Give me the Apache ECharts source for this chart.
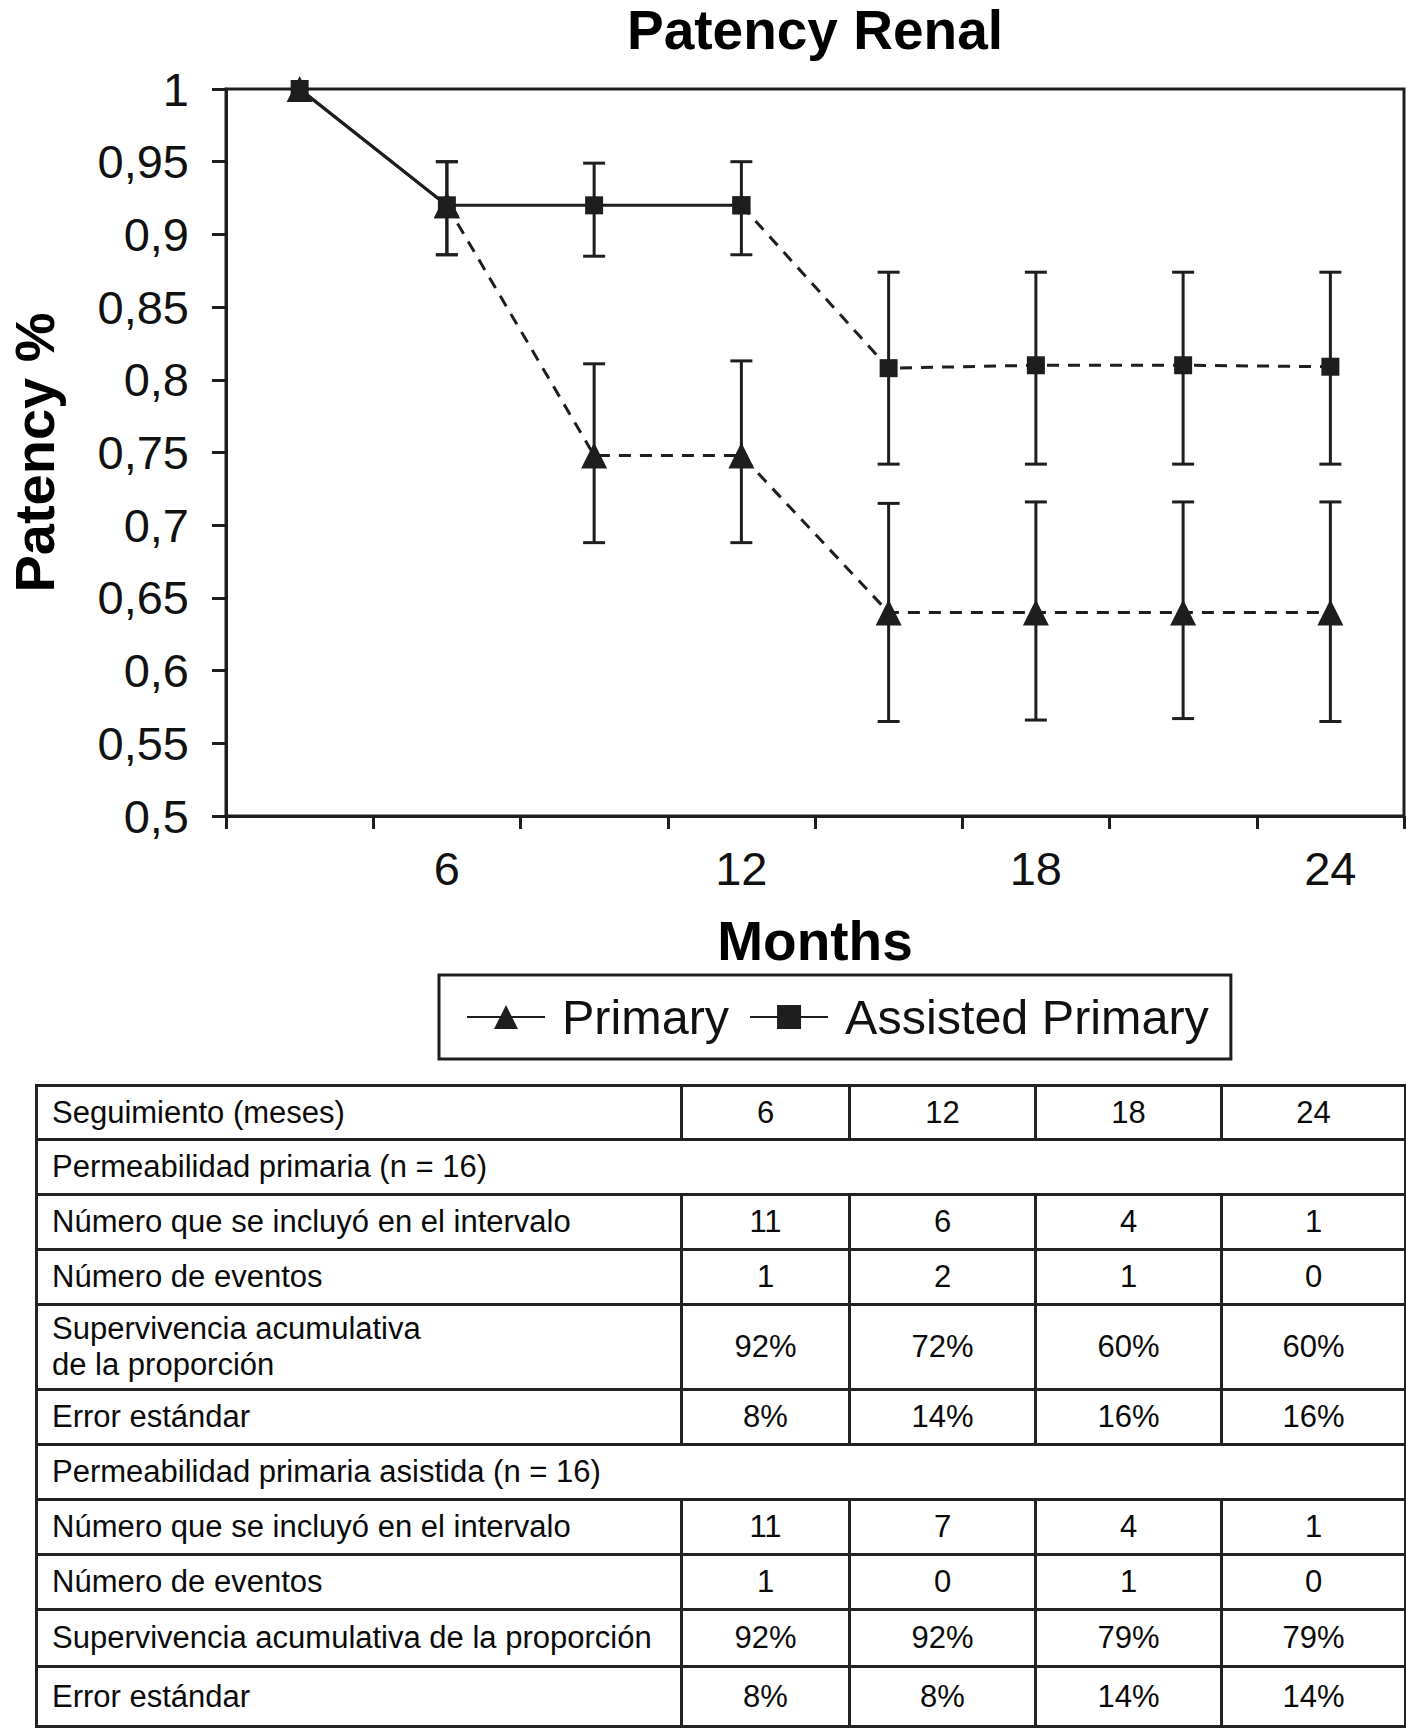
<!DOCTYPE html>
<html>
<head>
<meta charset="utf-8">
<script src="https://cdn.jsdelivr.net/npm/echarts@6/dist/echarts.min.js"></script>
<style>
  html, body { margin: 0; padding: 0; background: #fff; }
  #wrap { position: relative; width: 1406px; height: 1732px; background: #fff; }
  #chart { position: absolute; left: 0; top: 0; width: 1406px; height: 1078px; }
  #tbl { position: absolute; left: 35px; top: 1084px; width: 1369px; border-collapse: collapse; table-layout: fixed;
         font-family: "Liberation Sans", Arial, sans-serif; font-size: 31px; color: #0a0a0a; }
  #tbl td { border: 3px solid #222; padding: 0 0 0 14px; line-height: 36px; }
  #tbl td.num { text-align: center; padding: 0; }
</style>
</head>
<body>
<div id="wrap">
  <div id="chart"></div>
  <table id="tbl"></table>
</div>
<script>
// ---- chart data ----
const months = ['3', '6', '9', '12', '15', '18', '21', '24'];
const xTickLabels = ['6', '12', '18', '24'];
const yTickLabels = ['0,5', '0,55', '0,6', '0,65', '0,7', '0,75', '0,8', '0,85', '0,9', '0,95', '1'];
const primary = [1, 0.92, 0.748, 0.748, 0.64, 0.64, 0.64, 0.64];
const assisted = [1, 0.92, 0.92, 0.92, 0.808, 0.81, 0.81, 0.809];
const primaryLow = [null, 0.886, 0.688, 0.688, 0.565, 0.566, 0.567, 0.565];
const primaryHigh = [null, 0.950, 0.811, 0.813, 0.715, 0.716, 0.716, 0.716];
const assistedLow = [null, 0.886, 0.885, 0.886, 0.742, 0.742, 0.742, 0.742];
const assistedHigh = [null, 0.950, 0.949, 0.950, 0.874, 0.874, 0.874, 0.874];
// index where solid line ends (dashed from here on)
const primarySolidEnd = 1;
const assistedSolidEnd = 3;

// ---- table data ----
const tableHeader = ['Seguimiento (meses)', '6', '12', '18', '24'];
const primaryTitle = 'Permeabilidad primaria (n = 16)';
const primaryRows = [
  ['Número que se incluyó en el intervalo', '11', '6', '4', '1'],
  ['Número de eventos', '1', '2', '1', '0'],
  ['Supervivencia acumulativa<br>de la proporción', '92%', '72%', '60%', '60%'],
  ['Error estándar', '8%', '14%', '16%', '16%']
];
const assistedTitle = 'Permeabilidad primaria asistida (n = 16)';
const assistedRows = [
  ['Número que se incluyó en el intervalo', '11', '7', '4', '1'],
  ['Número de eventos', '1', '0', '1', '0'],
  ['Supervivencia acumulativa de la proporción', '92%', '92%', '79%', '79%'],
  ['Error estándar', '8%', '8%', '14%', '14%']
];

// ---- build table (layout constants kept separate from data) ----
(function buildTable() {
  const t = document.getElementById('tbl');
  const colW = [645, 168, 186, 186, 184];
  const rowH = [54, 55, 55, 55, 85, 55, 55, 55, 55, 57, 60];
  let r = 0;
  let html = '<colgroup>' + colW.map(w => '<col style="width:' + w + 'px">').join('') + '</colgroup>';
  const row = (cells) => '<tr style="height:' + rowH[r++] + 'px">' +
    cells.map((c, i) => '<td' + (i > 0 ? ' class="num"' : '') + '>' + c + '</td>').join('') + '</tr>';
  const titleRow = (txt) => '<tr style="height:' + rowH[r++] + 'px"><td colspan="5">' + txt + '</td></tr>';
  html += row(tableHeader);
  html += titleRow(primaryTitle);
  primaryRows.forEach(x => { html += row(x); });
  html += titleRow(assistedTitle);
  assistedRows.forEach(x => { html += row(x); });
  t.innerHTML = html;
})();

// ---- chart ----
const ink = '#1e1e1e';
function segment(arr, from, to) {
  return arr.map((v, i) => (i >= from && i <= to) ? v : '-');
}
function errData(low, high) {
  const out = [];
  low.forEach((l, i) => { if (l !== null) out.push([i, l, high[i]]); });
  return out;
}
function errRender(params, api) {
  const x = api.value(0);
  const lo = api.coord([x, api.value(1)]);
  const hi = api.coord([x, api.value(2)]);
  const hw = 11;
  const style = { stroke: ink, lineWidth: 3 };
  return {
    type: 'group',
    children: [
      { type: 'line', shape: { x1: lo[0], y1: lo[1], x2: hi[0], y2: hi[1] }, style },
      { type: 'line', shape: { x1: lo[0] - hw, y1: lo[1], x2: lo[0] + hw, y2: lo[1] }, style },
      { type: 'line', shape: { x1: hi[0] - hw, y1: hi[1], x2: hi[0] + hw, y2: hi[1] }, style }
    ]
  };
}

const chart = echarts.init(document.getElementById('chart'), null, { renderer: 'svg' });
const font = '"Liberation Sans", Arial, sans-serif';
const lineBase = { type: 'line', connectNulls: false, z: 3 };
chart.setOption({
  animation: false,
  backgroundColor: '#fff',
  textStyle: { fontFamily: font, color: '#111' },
  title: {
    text: 'Patency Renal', left: 815, top: 0, padding: 0, textAlign: 'center',
    textStyle: { fontSize: 55, fontWeight: 'bold', color: '#000', fontFamily: font, lineHeight: 60 }
  },
  grid: { left: 226, top: 89, right: 2, bottom: 262, show: true, borderColor: ink, borderWidth: 3,
          containLabel: false, outerBoundsMode: 'none' },
  legend: {
    data: ['Primary', 'Assisted Primary'],
    left: 439, top: 975,
    itemWidth: 78, itemHeight: 30, itemGap: 20,
    padding: [17, 22, 17, 27],
    borderColor: ink, borderWidth: 3,
    textStyle: { fontSize: 48.5, color: '#111', fontFamily: font, padding: [0, 0, 0, 12], lineHeight: 50 }
  },
  xAxis: {
    type: 'category', data: months, boundaryGap: true,
    name: 'Months', nameLocation: 'middle', nameGap: 97,
    nameTextStyle: { fontSize: 55, fontWeight: 'bold', color: '#000', fontFamily: font },
    axisLine: { lineStyle: { color: ink, width: 3 } },
    axisTick: { show: true, interval: 0, length: 13, inside: false, lineStyle: { color: ink, width: 3 } },
    axisLabel: {
      interval: 0, margin: 29, fontSize: 47, color: '#111', fontFamily: font,
      formatter: v => xTickLabels.indexOf(v) >= 0 ? v : ''
    },
    splitLine: { show: false }
  },
  yAxis: {
    type: 'value', min: 0.5, max: 1, interval: 0.05,
    name: 'Patency %', nameLocation: 'middle', nameGap: 166, nameRotate: 90,
    nameTextStyle: { fontSize: 56, fontWeight: 'bold', color: '#000', fontFamily: font, lineHeight: 52 },
    axisLine: { show: true, lineStyle: { color: ink, width: 3 } },
    axisTick: { show: true, length: 14, lineStyle: { color: ink, width: 3 } },
    axisLabel: {
      margin: 37, fontSize: 47, color: '#111', fontFamily: font,
      formatter: v => yTickLabels[Math.round((v - 0.5) / 0.05)]
    },
    splitLine: { show: false }
  },
  series: [
    { type: 'custom', name: 'errP', renderItem: errRender, data: errData(primaryLow, primaryHigh),
      encode: { x: 0, y: [1, 2] }, z: 2, silent: true },
    { type: 'custom', name: 'errA', renderItem: errRender, data: errData(assistedLow, assistedHigh),
      encode: { x: 0, y: [1, 2] }, z: 2, silent: true },
    Object.assign({}, lineBase, {
      name: 'Primary dashed', data: segment(primary, primarySolidEnd, primary.length - 1),
      symbol: 'triangle', symbolSize: 26, itemStyle: { color: ink },
      lineStyle: { color: ink, width: 3, type: [12, 9] }
    }),
    Object.assign({}, lineBase, {
      name: 'Assisted Primary dashed', data: segment(assisted, assistedSolidEnd, assisted.length - 1),
      symbol: 'rect', symbolSize: 18, itemStyle: { color: ink },
      lineStyle: { color: ink, width: 3, type: [12, 9] }
    }),
    Object.assign({}, lineBase, {
      name: 'Primary', data: segment(primary, 0, primarySolidEnd),
      symbol: 'triangle', symbolSize: 26, itemStyle: { color: ink },
      lineStyle: { color: ink, width: 3, type: 'solid' }
    }),
    Object.assign({}, lineBase, {
      name: 'Assisted Primary', data: segment(assisted, 0, assistedSolidEnd),
      symbol: 'rect', symbolSize: 18, itemStyle: { color: ink },
      lineStyle: { color: ink, width: 3, type: 'solid' }
    })
  ]
});
</script>
</body>
</html>
